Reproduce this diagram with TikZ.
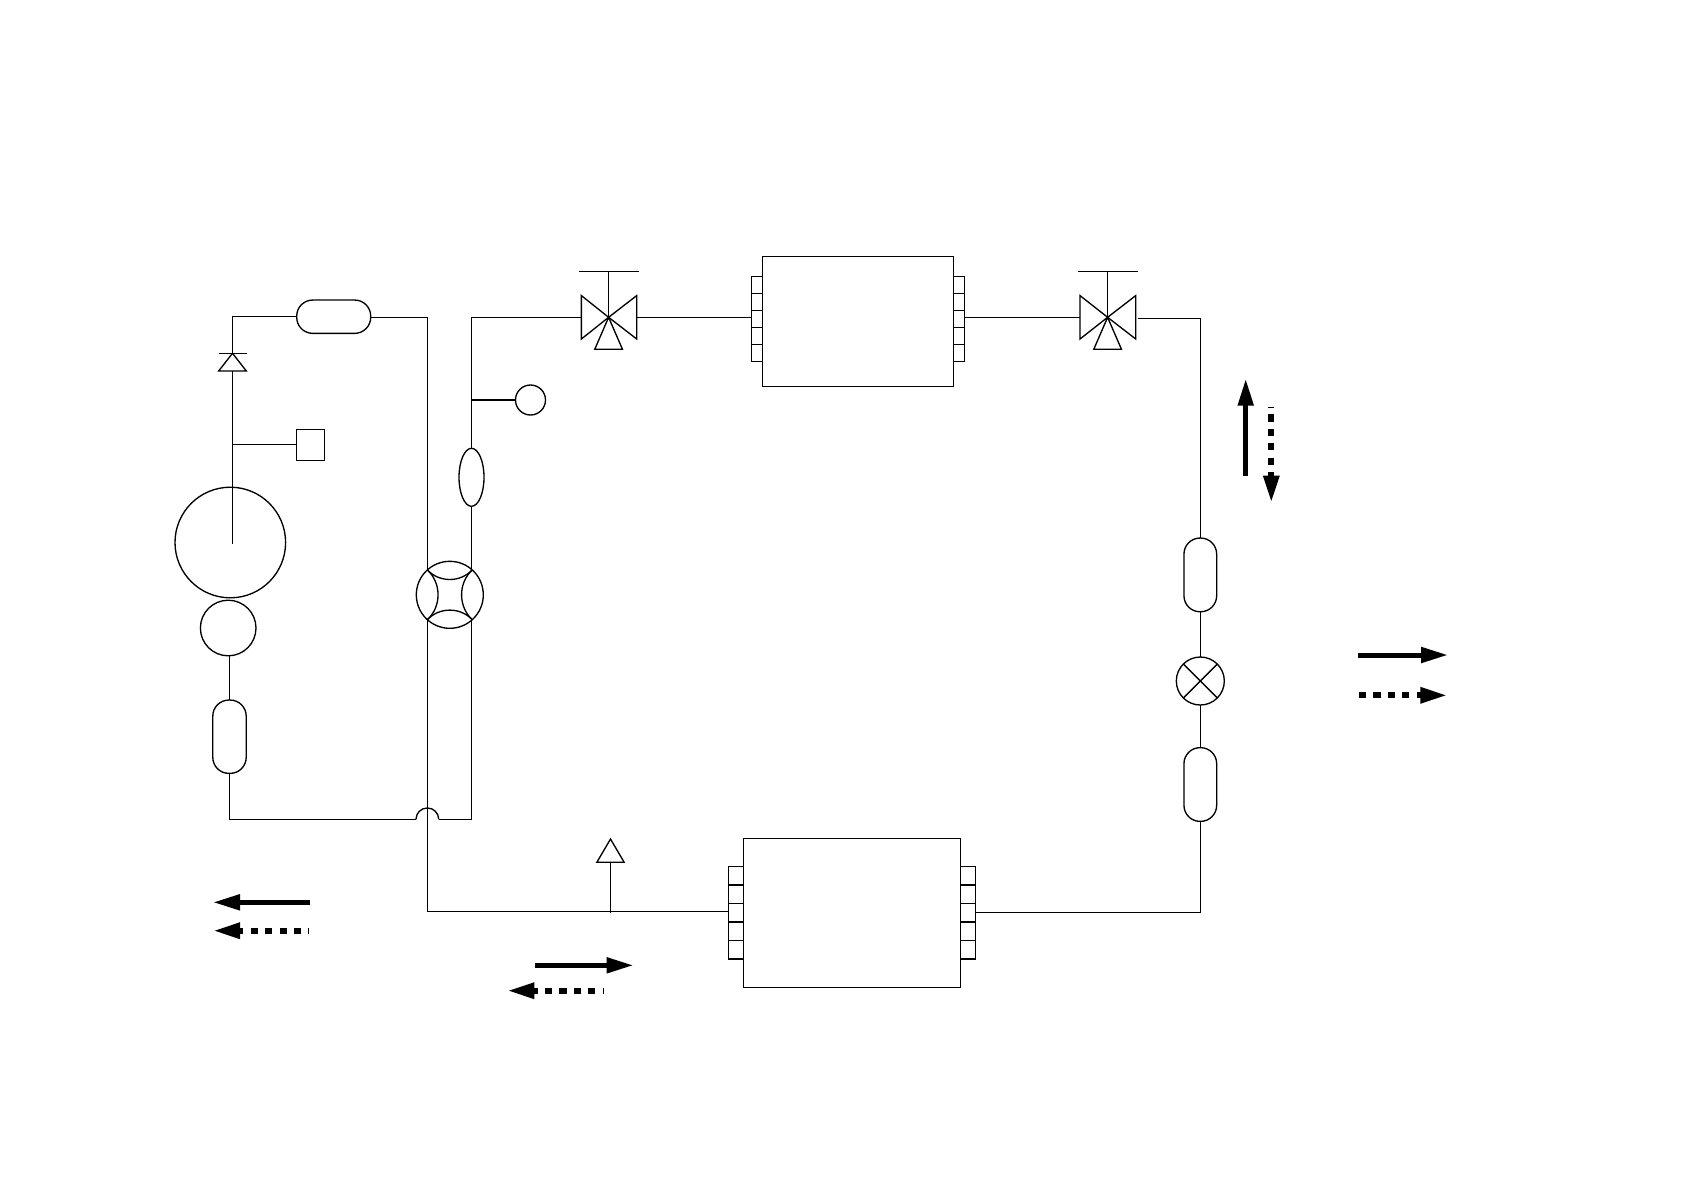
\documentclass[tikz,border=0pt]{standalone}
\usepackage{tikz}
\usetikzlibrary{positioning}
\usetikzlibrary{arrows.meta}
\usetikzlibrary{shapes.geometric}
\tikzset{
  capsule/.style={draw,inner sep=0pt,outer sep=0pt,rounded corners=.16cm},
  unit/.style={draw,inner sep=0pt,outer sep=0pt},
  roundel/.style={draw,circle,inner sep=0pt,outer sep=0pt,minimum size=#1},
  oval/.style={draw,ellipse,inner sep=0pt,outer sep=0pt,minimum width=.25cm,minimum height=.58cm},
  tabup/.style={draw,inner sep=0pt,outer sep=0pt,minimum width=.111cm,minimum height=.17cm},
  tabdown/.style={draw,inner sep=0pt,outer sep=0pt,minimum width=.15cm,minimum height=.185cm},
  wedge/.style n args={3}{draw,isosceles triangle,isosceles triangle stretches,inner sep=0pt,outer sep=0pt,
    shape border rotate=#1,minimum width=#2,minimum height=#3,anchor=apex},
  flow/.style={line width=.05cm,-{Triangle[length=.27cm,width=.15cm]}},
  flowdash/.style={flow,line width=.058cm,dash pattern=on .072cm off .072cm},
}

\begin{document}
\begin{tikzpicture}[line width=.38pt]
  \useasboundingbox (0,0) rectangle (16.81,-11.89);

  % left branch
  \node [capsule,minimum width=.74cm,minimum height=.333cm]  (captop)  at (3.337,-3.167) {};
  \node [wedge={90}{.277cm}{.177cm}]                         (diode)   at (2.325,-3.533) {};
  \node [unit,minimum width=.28cm,minimum height=.31cm]      (sensor)  at (3.107,-4.448) {};
  \node [roundel=1.106cm]                                    (bigpump) at (2.303,-5.425) {};
  \node [roundel=.556cm]                                     (motor)   at (2.282,-6.28)  {};
  \node [capsule,minimum width=.334cm,minimum height=.733cm] (capleft) at (2.295,-7.367) {};
  \coordinate (shaft)  at (2.325,-5.44);
  \coordinate (jumpin) at (4.16,-8.193);
  \coordinate (jumpout) at (4.387,-8.193);

  \draw ([xshift=-.14cm]diode.apex) -- ([xshift=.14cm]diode.apex);
  \draw (captop.west) -| (diode.apex);
  \draw (diode.lower side) -- (shaft);
  \draw (sensor.west) -- (sensor.west -| shaft);
  \draw (capleft.north |- motor.south) -- (capleft.north);
  \draw (capleft.south) |- (jumpin);
  \draw (jumpin) arc [start angle=180,end angle=0,radius=.1135cm];

  % four way valve
  \node [roundel=.67cm] (fourway) at (4.498,-5.948) {};
  \draw (fourway.132) to [bend right=47] (fourway.48);
  \draw (fourway.228) to [bend left=47]  (fourway.312);
  \draw (fourway.132) to [bend left=47]  (fourway.228);
  \draw (fourway.48)  to [bend right=47] (fourway.312);
  \draw ([yshift=-.01cm]captop.east) -| (fourway.132);

  % top run
  \node [oval]          (drier) at (4.715,-4.773) {};
  \node [roundel=.30cm] (gauge) at (5.305,-4)     {};
  \draw (drier.south |- fourway.48) -- (drier.south);
  \draw (drier.south |- fourway.312) |- (jumpout);
  \draw (gauge.west) -- (gauge.west -| drier.north);

  \node [wedge={0}{.434cm}{.272cm}]   (valveal) at (6.086,-3.173) {};
  \node [wedge={180}{.434cm}{.281cm}] (valvear) at (6.086,-3.173) {};
  \node [wedge={90}{.277cm}{.32cm}]   (valveab) at (6.086,-3.173) {};
  \coordinate (bara) at (6.086,-2.713);
  \draw ([xshift=-.3cm]bara) -- ([xshift=.3cm]bara);
  \draw (bara) -- (valveal.apex);
  \draw (drier.north) |- (valveal.lower side);

  \node [unit,minimum width=1.909cm,minimum height=1.298cm] (condup) at (8.58,-3.214) {};
  \node [tabup] (ul1) at (7.5695,-2.848) {};
  \node [tabup] (ul2) at (7.5695,-3.018) {};
  \node [tabup] (ul3) at (7.5695,-3.188) {};
  \node [tabup] (ul4) at (7.5695,-3.358) {};
  \node [tabup] (ul5) at (7.5695,-3.528) {};
  \node [tabup] (ur1) at (9.5895,-2.848) {};
  \node [tabup] (ur2) at (9.5895,-3.018) {};
  \node [tabup] (ur3) at (9.5895,-3.188) {};
  \node [tabup] (ur4) at (9.5895,-3.358) {};
  \node [tabup] (ur5) at (9.5895,-3.528) {};
  \draw (valvear.lower side) -- (valvear.lower side -| ul3.west);

  \node [wedge={0}{.434cm}{.276cm}]   (valvebl) at (11.076,-3.173) {};
  \node [wedge={180}{.434cm}{.281cm}] (valvebr) at (11.076,-3.173) {};
  \node [wedge={90}{.277cm}{.32cm}]   (valvebb) at (11.076,-3.173) {};
  \coordinate (barb) at (11.076,-2.713);
  \draw ([xshift=-.3cm]barb) -- ([xshift=.3cm]barb);
  \draw (barb) -- (valvebl.apex);
  \draw (ur3.east |- valvebl.lower side) -- (valvebl.lower side);

  % right branch
  \node [capsule,minimum width=.327cm,minimum height=.737cm] (capup)   at (12.003,-5.749) {};
  \node [roundel=.48cm]                                      (expand)  at (12.003,-6.81)  {};
  \node [capsule,minimum width=.327cm,minimum height=.737cm] (capdown) at (12.003,-7.845) {};
  \draw ([xshift=.023cm,yshift=-.012cm]valvebr.lower side) -| (capup.north);
  \draw (capup.south) -- (capup.south |- expand.north);
  \draw (expand.45)  -- (expand.225);
  \draw (expand.135) -- (expand.315);
  \draw (capdown.north |- expand.south) -- (capdown.north);

  % bottom run
  \node [unit,minimum width=2.171cm,minimum height=1.49cm] (condlow) at (8.5195,-9.128) {};
  \node [tabdown] (ll1) at (7.359,-8.758) {};
  \node [tabdown] (ll2) at (7.359,-8.943) {};
  \node [tabdown] (ll3) at (7.359,-9.128) {};
  \node [tabdown] (ll4) at (7.359,-9.313) {};
  \node [tabdown] (ll5) at (7.359,-9.498) {};
  \node [tabdown] (lr1) at (9.68,-8.758)  {};
  \node [tabdown] (lr2) at (9.68,-8.943)  {};
  \node [tabdown] (lr3) at (9.68,-9.128)  {};
  \node [tabdown] (lr4) at (9.68,-9.313)  {};
  \node [tabdown] (lr5) at (9.68,-9.498)  {};
  \node [wedge={90}{.273cm}{.233cm}] (charge) at (6.105,-8.39) {};
  \draw (fourway.228) |- ([yshift=.015cm]ll3.west);
  \draw (charge.lower side) -- (charge.lower side |- ll3.west);
  \draw (capdown.south) |- ([yshift=.005cm]lr3.east);

  % flow arrows
  \coordinate (leftsa) at (3.103,-9.023);  \coordinate (leftsb) at (2.13,-9.023);
  \coordinate (leftda) at (3.088,-9.307);  \coordinate (leftdb) at (2.13,-9.307);
  \coordinate (lowsa)  at (5.354,-9.653);  \coordinate (lowsb)  at (6.335,-9.653);
  \coordinate (lowda)  at (6.031,-9.907);  \coordinate (lowdb)  at (5.073,-9.907);
  \coordinate (upsa)   at (12.457,-4.763); \coordinate (upsb)   at (12.457,-3.787);
  \coordinate (updna)  at (12.713,-4.067); \coordinate (updnb)  at (12.713,-5.027);
  \coordinate (rightsa) at (13.58,-6.55);  \coordinate (rightsb) at (14.48,-6.55);
  \coordinate (rightda) at (13.59,-6.953); \coordinate (rightdb) at (14.473,-6.953);

  \draw [flow] (leftsa) -- (leftsb);
  \draw [flowdash,dash phase=.067cm] (leftda) -- (leftdb);
  \draw [flow] (lowsa) -- (lowsb);
  \draw [flowdash,dash phase=.067cm] (lowda) -- (lowdb);
  \draw [flow] (upsa) -- (upsb);
  \draw [flowdash,dash phase=.067cm] (updna) -- (updnb);
  \draw [flow] (rightsa) -- (rightsb);
  \draw [flowdash] (rightda) -- (rightdb);
\end{tikzpicture}
\end{document}
